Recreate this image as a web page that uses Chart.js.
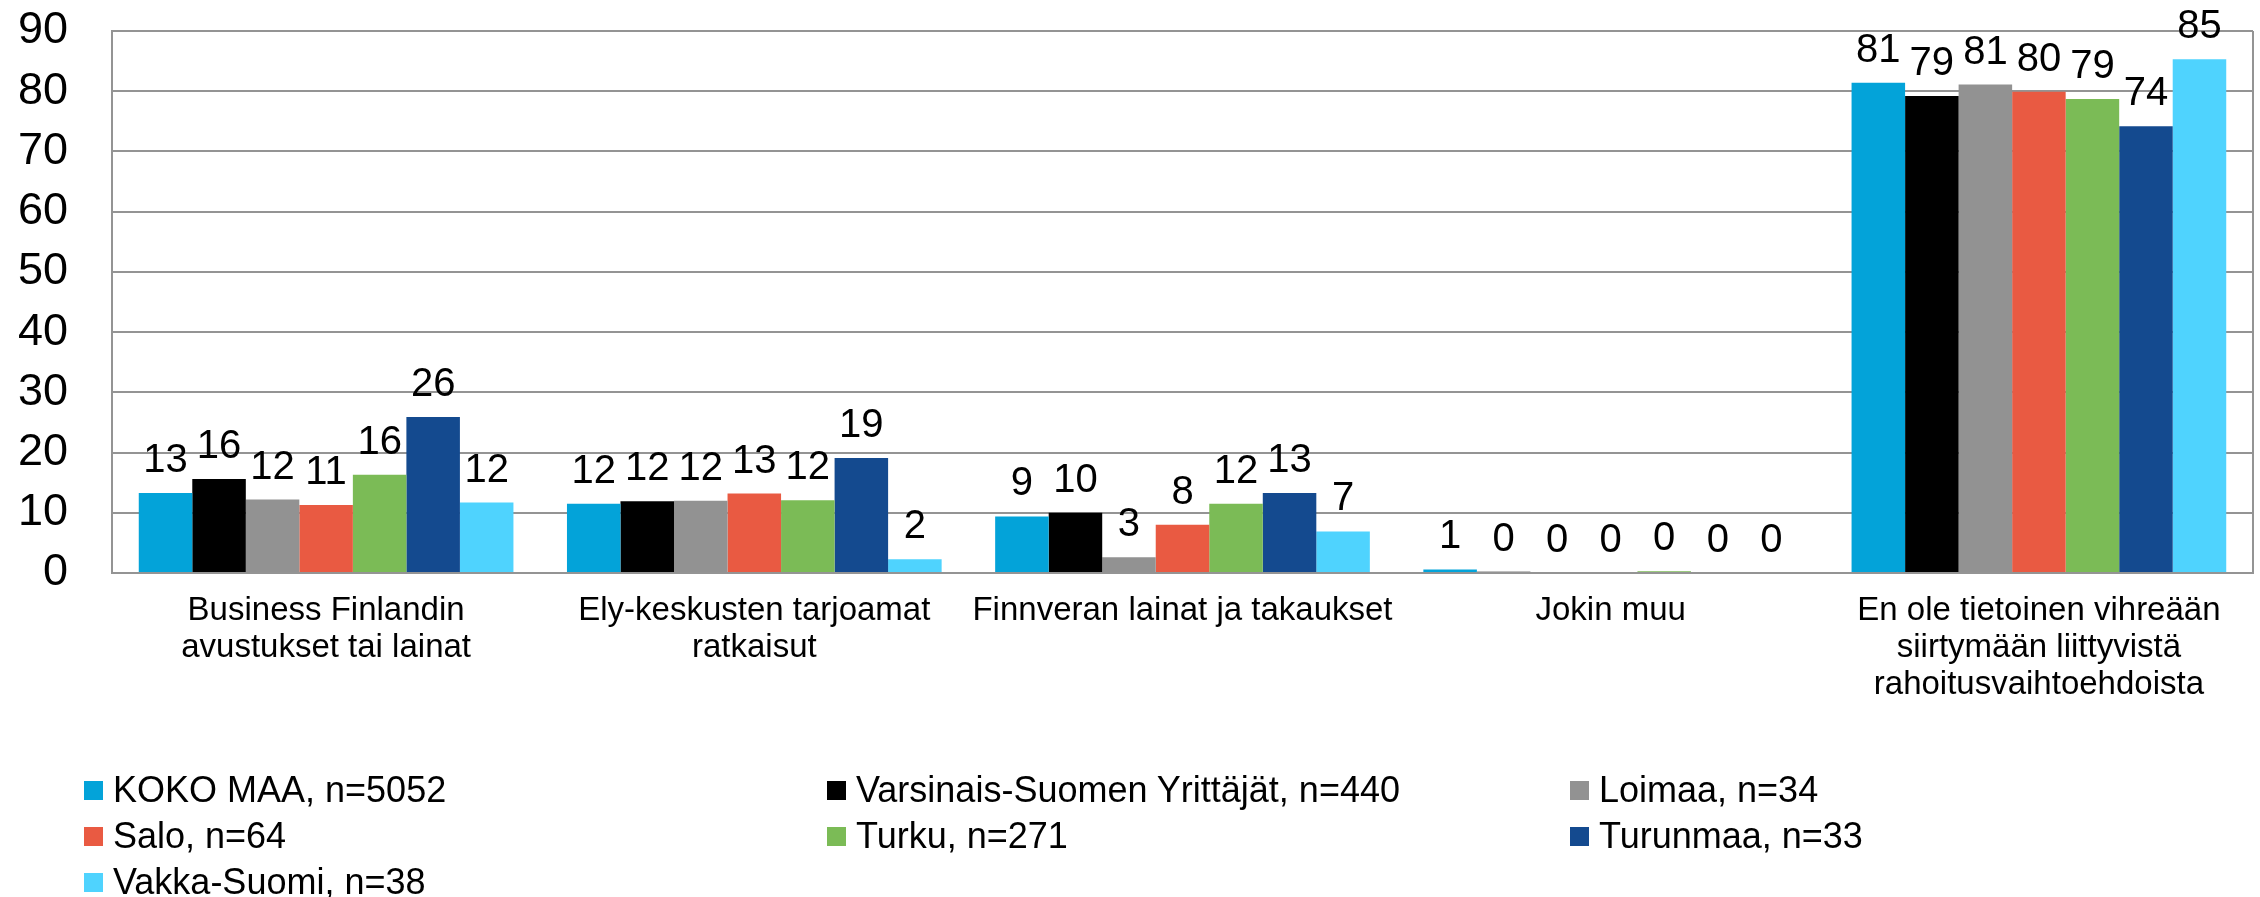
<!DOCTYPE html>
<html>
<head>
<meta charset="utf-8">
<script src="https://cdn.jsdelivr.net/npm/chart.js@4.4.1/dist/chart.umd.min.js"></script>
<style>
  html, body { margin: 0; padding: 0; background: #fff; }
  #wrap { position: relative; width: 2260px; height: 897px; }
  #legend {
    position: absolute; left: 84px; top: 767px;
    display: grid; grid-template-columns: 743px 743px 743px;
    font-family: "Liberation Sans", Arial, sans-serif; font-size: 36px; color: #000;
  }
  .item { display: flex; align-items: center; height: 46px; white-space: nowrap; }
  .box { width: 19px; height: 19px; margin-right: 10px; flex: none; }
</style>
</head>
<body>
<div id="wrap">
  <canvas id="myChart" width="2260" height="897"></canvas>
  <div id="legend"></div>
</div>
<script>
// Categories (x axis), split in lines like the original
var categories = [
    ["Business Finlandin", "avustukset tai lainat"],
    ["Ely-keskusten tarjoamat", "ratkaisut"],
    ["Finnveran lainat ja takaukset"],
    ["Jokin muu"],
    ["En ole tietoinen vihreään", "siirtymään liittyvistä", "rahoitusvaihtoehdoista"]
];

// Series names and colours
var seriesNames = [
    "KOKO MAA, n=5052",
    "Varsinais-Suomen Yrittäjät, n=440",
    "Loimaa, n=34",
    "Salo, n=64",
    "Turku, n=271",
    "Turunmaa, n=33",
    "Vakka-Suomi, n=38"
];
var barColors = ["#03a3d9", "#000000", "#929292", "#e95a42", "#7bbb56", "#144a8f", "#4fd3fe"];

// Values per series (percent)
var kokoMaa     = [13.3, 11.5,  9.4, 0.6, 81.4];
var varsinais   = [15.6, 11.9, 10.0, 0.2, 79.2];
var loimaa      = [12.2, 12.0,  2.6, 0,   81.1];
var salo        = [11.3, 13.2,  8.0, 0,   79.9];
var turku       = [16.3, 12.1, 11.5, 0.3, 78.7];
var turunmaa    = [25.9, 19.1, 13.3, 0,   74.2];
var vakkaSuomi  = [11.7,  2.3,  6.9, 0,   85.3];
var seriesValues = [kokoMaa, varsinais, loimaa, salo, turku, turunmaa, vakkaSuomi];

// Y axis ticks
var yMin = 0, yMax = 90, yStep = 10;

var fontFamily = '"Liberation Sans", Arial, sans-serif';
var gridColor = "#949494";

// Draws the value above each bar
var valueLabels = {
    id: "valueLabels",
    afterDatasetsDraw: function(chart) {
        var ctx = chart.ctx;
        ctx.save();
        ctx.font = "40px " + fontFamily;
        ctx.fillStyle = "#000";
        ctx.textAlign = "center";
        ctx.textBaseline = "alphabetic";
        chart.data.datasets.forEach(function(ds, i) {
            chart.getDatasetMeta(i).data.forEach(function(bar, j) {
                ctx.fillText(Math.round(ds.data[j]), bar.x, bar.y - 21);
            });
        });
        ctx.restore();
    }
};

// Plot area frame (right edge line)
var frame = {
    id: "frame",
    afterDraw: function(chart) {
        var a = chart.chartArea, ctx = chart.ctx;
        ctx.save();
        ctx.strokeStyle = gridColor;
        ctx.lineWidth = 2;
        ctx.beginPath();
        ctx.moveTo(a.right, a.top);
        ctx.lineTo(a.right, a.bottom);
        ctx.stroke();
        ctx.restore();
    }
};

var datasets = seriesNames.map(function(name, i) {
    return {
        label: name,
        data: seriesValues[i],
        backgroundColor: barColors[i],
        borderWidth: 0,
        categoryPercentage: 0.875,
        barPercentage: 1.0
    };
});

var chart = new Chart("myChart", {
    type: "bar",
    data: { labels: categories, datasets: datasets },
    plugins: [valueLabels, frame],
    options: {
        responsive: false,
        animation: false,
        layout: { padding: { top: 0, right: 7, left: 0, bottom: 0 } },
        plugins: {
            legend: { display: false },
            tooltip: { enabled: false }
        },
        scales: {
            x: {
                grid: { display: false, drawTicks: false },
                border: { display: true, color: gridColor, width: 2 },
                ticks: {
                    color: "#000",
                    padding: 20,
                    maxRotation: 0,
                    autoSkip: false,
                    font: { family: fontFamily, size: 33, lineHeight: 1.11 }
                },
                afterFit: function(scale) { scale.height = 897 - 573; }
            },
            y: {
                min: yMin,
                max: yMax,
                ticks: {
                    stepSize: yStep,
                    autoSkip: false,
                    color: "#000",
                    padding: 4,
                    font: { family: fontFamily, size: 45, lineHeight: 1.2 }
                },
                grid: { color: gridColor, lineWidth: 2, drawTicks: true, tickLength: 40, tickColor: "rgba(0,0,0,0)" },
                border: { display: true, color: gridColor, width: 2 },
                afterFit: function(scale) { scale.width = 112; }
            }
        }
    }
});

// HTML legend in three columns
var legend = document.getElementById("legend");
chart.data.datasets.forEach(function(ds) {
    var item = document.createElement("div");
    item.className = "item";
    var box = document.createElement("span");
    box.className = "box";
    box.style.background = ds.backgroundColor;
    item.appendChild(box);
    item.appendChild(document.createTextNode(ds.label));
    legend.appendChild(item);
});
</script>
</body>
</html>
